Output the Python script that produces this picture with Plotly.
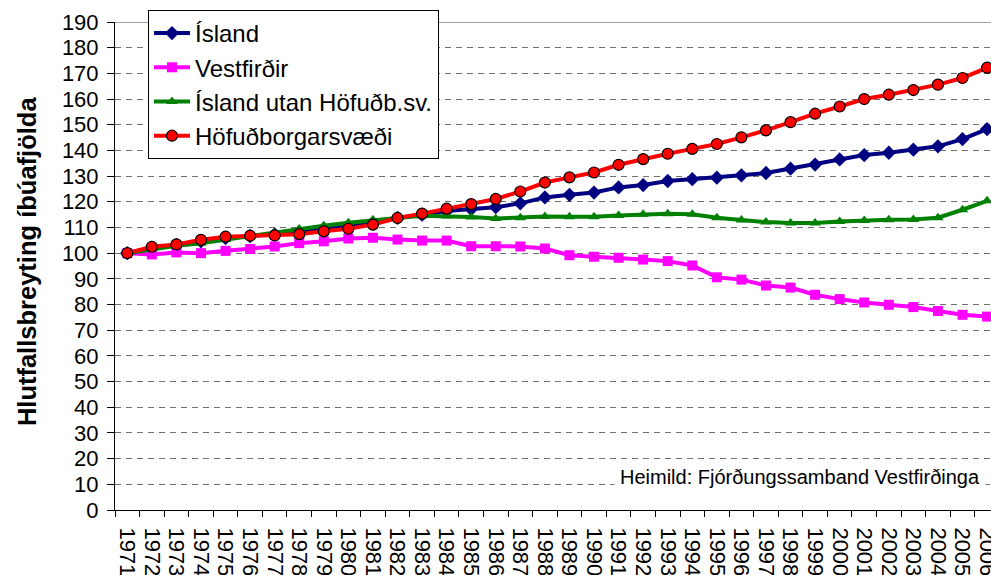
import plotly.graph_objects as go

years = [str(y) for y in range(1971, 2007)]

island = [100, 102.1, 103.2, 104.6, 105.9, 106.6, 107.3, 108.3, 109.5, 110.5,
          111.9, 113.7, 115.0, 116.4, 117.2, 117.9, 119.4, 121.7, 122.7, 123.6,
          125.6, 126.5, 128.1, 128.8, 129.4, 130.3, 131.2, 132.9, 134.5, 136.5,
          138.2, 139.1, 140.3, 141.6, 144.4, 148.3]

vestfirdir = [100, 99.5, 100.3, 100.0, 100.9, 101.6, 102.6, 103.9, 104.6, 105.7,
              106.0, 105.3, 104.9, 104.9, 102.7, 102.7, 102.6, 101.8, 99.2, 98.6,
              98.2, 97.5, 96.9, 95.2, 90.6, 89.7, 87.4, 86.6, 83.8, 82.1,
              80.8, 79.9, 79.0, 77.5, 76.0, 75.3]

utan = [100, 101.6, 102.9, 103.9, 105.3, 106.4, 107.8, 109.4, 110.7, 111.8,
        112.9, 113.7, 114.6, 114.5, 114.1, 113.5, 113.8, 114.3, 114.2, 114.2,
        114.7, 115.1, 115.3, 115.1, 113.8, 112.9, 112.1, 111.7, 111.7, 112.3,
        112.7, 113.0, 113.1, 113.8, 116.9, 120.4]

hofud = [100, 102.5, 103.4, 105.2, 106.4, 106.8, 106.9, 107.4, 108.5, 109.5,
         111.1, 113.7, 115.4, 117.3, 119.1, 121.1, 124.0, 127.5, 129.5, 131.4,
         134.4, 136.6, 138.7, 140.6, 142.5, 145.1, 147.8, 151.0, 154.3, 157.1,
         160.0, 161.7, 163.5, 165.6, 168.2, 172.2]

series_names = ["Ísland", "Vestfirðir", "Ísland utan Höfuðb.sv.", "Höfuðborgarsvæði"]
y_title = "Hlutfallsbreyting íbúafjölda"
source_text = "Heimild: Fjórðungssamband Vestfirðinga"

FONT = "Liberation Sans, Arial, sans-serif"

fig = go.Figure()
styles = [
    dict(color="#000080", symbol="diamond", size=11, mline=dict(width=0)),
    dict(color="#FF00FF", symbol="square", size=10, mline=dict(width=0)),
    dict(color="#008000", symbol="triangle-up", size=10, mline=dict(width=0)),
    dict(color="#FF0000", symbol="circle", size=11, mline=dict(width=1.2, color="#000000")),
]
for i, (name, vals, st) in enumerate(zip(series_names, [island, vestfirdir, utan, hofud], styles)):
    fig.add_trace(go.Scatter(
        x=years, y=vals, name=name, mode="lines+markers",
        line=dict(color=st["color"], width=4),
        marker=dict(symbol=st["symbol"], size=st["size"], color=st["color"], line=st["mline"]),
        legendgroup=f"g{i}", cliponaxis=False,
    ))

fig.update_layout(
    width=991, height=575,
    margin=dict(l=115, r=0, t=22, b=65, autoexpand=False),
    paper_bgcolor="white", plot_bgcolor="white",
    font=dict(family=FONT, color="#000000"),
    showlegend=True,
    legend=dict(
        x=(148 - 115) / 876, y=1 + 12 / 488, xanchor="left", yanchor="top",
        bgcolor="white", bordercolor="#000000", borderwidth=1,
        font=dict(size=24, family=FONT), tracegroupgap=0,
        itemwidth=36,
    ),
    xaxis=dict(
        type="category", range=[-0.5, 35.16], tickson="boundaries",
        tickmode="linear", tick0=0, dtick=1,
        showline=True, linecolor="#000000", linewidth=1,
        ticks="outside", ticklen=6, tickcolor="#000000",
        tickangle=90, tickfont=dict(size=22), showgrid=False,
        zeroline=False, automargin=False, ticklabelstandoff=12,
    ),
    yaxis=dict(
        range=[0, 190], tick0=0, dtick=10,
        showline=True, linecolor="#000000", linewidth=1,
        ticks="outside", ticklen=7, tickcolor="#000000",
        tickfont=dict(size=22), automargin=False, ticklabelstandoff=4,
        showgrid=True, gridcolor="#707070", gridwidth=1, griddash="6px,5px",
        zeroline=False,
    ),
    annotations=[
        dict(text=f"<b>{y_title}</b>", textangle=-90, xref="paper", yref="paper",
             x=-(115 - 27) / 876, y=0.51, xanchor="center", yanchor="middle",
             showarrow=False, font=dict(size=25.5, family=FONT)),
        dict(text=source_text, xref="paper", yref="y", x=(986 - 115) / 876, y=12.9,
             xanchor="right", yanchor="middle", showarrow=False,
             bgcolor="white", borderpad=5, font=dict(size=20, family=FONT)),
    ],
    shapes=[
        dict(type="line", xref="paper", yref="y", x0=0, x1=1, y0=190, y1=190,
             line=dict(color="#808080", width=1.5), layer="below"),
    ],
)

fig.write_html(
    "out.html",
    config={"displayModeBar": False},
    post_script="document.body.style.margin='0px';document.body.style.overflow='hidden';",
)
